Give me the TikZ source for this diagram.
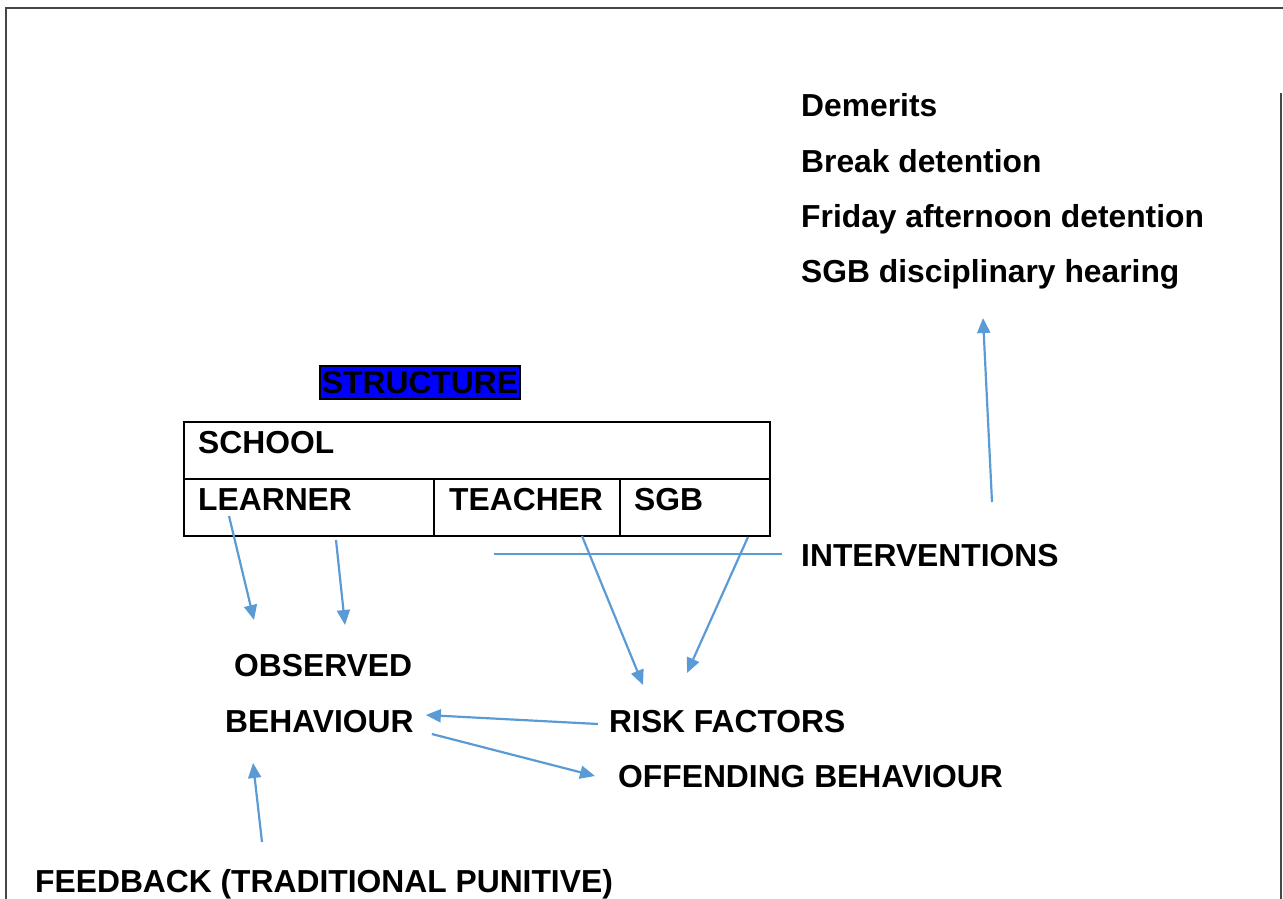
\documentclass[tikz,border=0pt]{standalone}
\usepackage{fontspec}
\setmainfont{Liberation Sans}
\usetikzlibrary{arrows.meta, positioning}

\definecolor{arrowblue}{RGB}{91,155,213}
\definecolor{framegray}{RGB}{70,70,70}

\tikzset{
  txt/.style={anchor=base west, inner sep=0pt, font=\fontsize{31.8}{38}\selectfont\bfseries},
  link/.style={draw=arrowblue, line width=2.2pt, -{Triangle[length=15pt, width=13pt]}},
  cell/.style={draw, line width=1.8pt}
}

\begin{document}
\begin{tikzpicture}[x=1pt, y=-1pt]
      \useasboundingbox (0,0) rectangle (1283,899);

      % page frame
      \draw[framegray, line width=2.4pt] (6,899) -- (6,8) -- (1283,8);
      \draw[framegray, line width=2.4pt] (1281,93) -- (1281,899);

      % interventions list
      \node[txt] (demerits) at (801,116) {Demerits};
      \node[txt] (breakdet) at (801,172) {Break detention};
      \node[txt] (fridaydet) at (801,227) {Friday afternoon detention};
      \node[txt] (hearing) at (801,282) {SGB disciplinary hearing};

      % structure
      \node[txt, anchor=base, fill=blue, draw=black, line width=1.5pt,
        inner xsep=2pt, text depth=6pt, text height=27pt] (structure) at (420,393) {STRUCTURE};

      \draw[cell] (184,422) rectangle (770,536);
      \draw[cell] (184,479) -- (770,479);
      \draw[cell] (434,479) -- (434,536);
      \draw[cell] (620,479) -- (620,536);

      \node[txt] (school) at (198,453) {SCHOOL};
      \node[txt] (learner) at (198,510) {LEARNER};
      \node[txt] (teacher) at (449,510) {TEACHER};
      \node[txt] (sgb) at (634,510) {SGB};

      \node[txt] (interventions) at (801,566) {INTERVENTIONS};
      \node[txt] (observed) at (234,676) {OBSERVED};
      \node[txt] (behaviour) at (225,732) {BEHAVIOUR};
      \node[txt] (risk) at (609,732) {RISK FACTORS};
      \node[txt] (offending) at (618,787) {OFFENDING BEHAVIOUR};
      \node[txt] (feedback) at (35,892) {FEEDBACK (TRADITIONAL PUNITIVE)};

      % connectors
      \coordinate (learnerA) at (229,516);
      \coordinate (learnerB) at (336,540);
      \coordinate (teacherA) at (582,536);
      \coordinate (sgbA) at (748,537);
      \coordinate (obsA) at (254,620);
      \coordinate (obsB) at (345,625);
      \coordinate (riskA) at (643,685);
      \coordinate (riskB) at (687,673);
      \coordinate (intvA) at (494,554);
      \coordinate (intvB) at (782,554);
      \coordinate (intvUp) at (992,502);
      \coordinate (listA) at (983,318);

      \draw[link] (learnerA) -- (obsA);
      \draw[link] (learnerB) -- (obsB);
      \draw[link] (teacherA) -- (riskA);
      \draw[link] (sgbA) -- (riskB);
      \draw[arrowblue, line width=1.2pt] (intvA) -- (intvB);
      \draw[link] (intvUp) -- (listA);
      \draw[link] ([xshift=-11pt, yshift=8pt]risk.base west) -- ([xshift=12pt, yshift=17pt]behaviour.base east);
      \draw[link] ([xshift=18pt, yshift=-2pt]behaviour.base east) -- ([xshift=-23pt, yshift=11pt]offending.base west);
      \draw[link] ([xshift=227pt, yshift=50pt]feedback.base west) -- ([xshift=28pt, yshift=-31pt]behaviour.base west);
\end{tikzpicture}
\end{document}
